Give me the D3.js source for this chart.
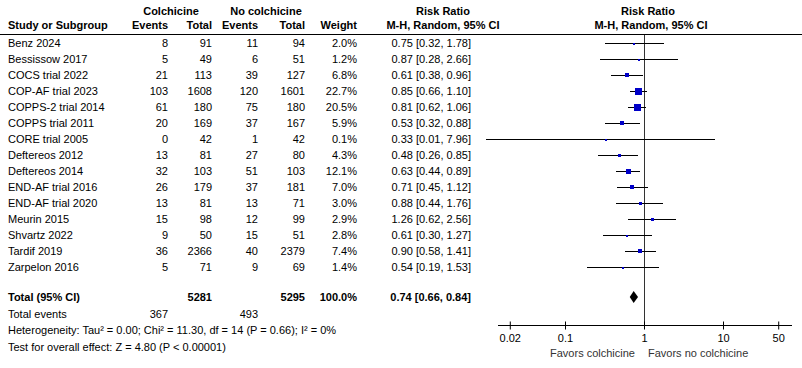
<!DOCTYPE html>
<html><head><meta charset="utf-8">
<script src="https://cdn.jsdelivr.net/npm/d3@7"></script>
<style>
html,body{margin:0;padding:0;background:#fff;}
svg{display:block;}
text{font-family:"Liberation Sans",Arial,sans-serif;font-size:11px;fill:#000;}
.b{font-weight:bold;}
</style></head>
<body><svg id="c" width="802" height="368"></svg>
<script>
const studies = ["Benz 2024","Bessissow 2017","COCS trial 2022","COP-AF trial 2023","COPPS-2 trial 2014","COPPS trial 2011","CORE trial 2005","Deftereos 2012","Deftereos 2014","END-AF trial 2016","END-AF trial 2020","Meurin 2015","Shvartz 2022","Tardif 2019","Zarpelon 2016"];
const colEvents = [8,5,21,103,61,20,0,13,32,26,13,15,9,36,5];
const colTotal = [91,49,113,1608,180,169,42,81,103,179,81,98,50,2366,71];
const noEvents = [11,6,39,120,75,37,1,27,51,37,13,12,15,40,9];
const noTotal = [94,51,127,1601,180,167,42,80,103,181,71,99,51,2379,69];
const weights = [2.0,1.2,6.8,22.7,20.5,5.9,0.1,4.3,12.1,7.0,3.0,2.9,2.8,7.4,1.4];
const rr = [0.75,0.87,0.61,0.85,0.81,0.53,0.33,0.48,0.63,0.71,0.88,1.26,0.61,0.90,0.54];
const lo = [0.32,0.28,0.38,0.66,0.62,0.32,0.01,0.26,0.44,0.45,0.44,0.62,0.30,0.58,0.19];
const hi = [1.78,2.66,0.96,1.10,1.06,0.88,7.96,0.85,0.89,1.12,1.76,2.56,1.27,1.41,1.53];
const total = {colTotal:5281, noTotal:5295, colEvents:367, noEvents:493, rr:0.74, lo:0.66, hi:0.84};
const tickValues = [0.02,0.1,1,10,50];
const tickLabels = ["0.02","0.1","1","10","50"];

const svg = d3.select("#c");
const x = d3.scaleLog().domain([0.01,100]).range([486,802]);
const rowY = d3.scaleLinear().domain([0,1]).range([43,59]);
const f2 = d3.format(".2f"), f1 = d3.format(".1f");

// headers
const hdr = (t,xx,y,anchor)=>svg.append("text").attr("class","b").attr("x",xx).attr("y",y).attr("text-anchor",anchor).text(t);
hdr("Colchicine",171,15,"middle");
hdr("No colchicine",266,15,"middle");
hdr("Risk Ratio",443,15,"middle");
hdr("Risk Ratio",648,15,"middle");
hdr("Study or Subgroup",8,29,"start");
hdr("Events",168,29,"end");
hdr("Total",212,29,"end");
hdr("Events",258,29,"end");
hdr("Total",305,29,"end");
hdr("Weight",357,29,"end");
hdr("M-H, Random, 95% CI",443,29,"middle");
hdr("M-H, Random, 95% CI",651,29,"middle");
svg.append("line").attr("x1",0).attr("x2",802).attr("y1",34.5).attr("y2",34.5).attr("stroke","#000");

// vertical line at 1
svg.append("line").attr("x1",Math.round(x(1))+0.5).attr("x2",Math.round(x(1))+0.5).attr("y1",35).attr("y2",325).attr("stroke","#333");

const cols = [
  {v:i=>colEvents[i], x:168},
  {v:i=>colTotal[i], x:212},
  {v:i=>noEvents[i], x:258},
  {v:i=>noTotal[i], x:305},
  {v:i=>f1(weights[i])+"%", x:357},
  {v:i=>`${f2(rr[i])} [${f2(lo[i])}, ${f2(hi[i])}]`, x:471}
];
studies.forEach((s,i)=>{
  const y = rowY(i);
  const g = svg.append("g");
  g.append("text").attr("x",8).attr("y",y+4).text(s);
  cols.forEach(c=>g.append("text").attr("x",c.x).attr("y",y+4).attr("text-anchor","end").text(c.v(i)));
  const yl = Math.round(y)+0.5;
  g.append("line").attr("x1",Math.round(x(lo[i]))).attr("x2",Math.round(x(hi[i]))).attr("y1",yl).attr("y2",yl).attr("stroke","#000").attr("shape-rendering","crispEdges");
  const side = Math.max(2, Math.round(7*Math.sqrt(weights[i]/22.7)));
  const h = side <= 2 ? 2 : side;
  const cx = Math.round(x(rr[i]));
  g.append("rect").attr("x",cx-Math.floor(side/2)).attr("y",Math.round(y)-Math.floor(h/2)+(side<=2?1:0)).attr("width",side).attr("height",h)
    .attr("fill","#0000c8").attr("shape-rendering","crispEdges");
});

// total row
const ty = 297;
svg.append("text").attr("class","b").attr("x",8).attr("y",ty+4).text("Total (95% CI)");
svg.append("text").attr("class","b").attr("x",212).attr("y",ty+4).attr("text-anchor","end").text(total.colTotal);
svg.append("text").attr("class","b").attr("x",305).attr("y",ty+4).attr("text-anchor","end").text(total.noTotal);
svg.append("text").attr("class","b").attr("x",357).attr("y",ty+4).attr("text-anchor","end").text("100.0%");
svg.append("text").attr("class","b").attr("x",471).attr("y",ty+4).attr("text-anchor","end").text(`${f2(total.rr)} [${f2(total.lo)}, ${f2(total.hi)}]`);
svg.append("path").attr("d",`M${x(total.lo)},${ty}L${x(total.rr)},${ty-6}L${x(total.hi)},${ty}L${x(total.rr)},${ty+6}Z`).attr("fill","#000");

svg.append("text").attr("x",8).attr("y",318).text("Total events");
svg.append("text").attr("x",168).attr("y",318).attr("text-anchor","end").text(total.colEvents);
svg.append("text").attr("x",258).attr("y",318).attr("text-anchor","end").text(total.noEvents);
svg.append("text").attr("x",8).attr("y",334).text("Heterogeneity: Tau\u00b2 = 0.00; Chi\u00b2 = 11.30, df = 14 (P = 0.66); I\u00b2 = 0%");
svg.append("text").attr("x",8).attr("y",351).text("Test for overall effect: Z = 4.80 (P < 0.00001)");

// axis
const ax = svg.append("g").attr("transform","translate(0,325.5)")
  .call(d3.axisBottom(x).tickValues(tickValues).tickFormat((d,i)=>tickLabels[i]).tickSizeOuter(0).tickSize(4).tickPadding(5));
ax.select(".domain").attr("d","M498,0H792").attr("stroke","#000");
ax.selectAll(".tick line").attr("y1",-4).attr("y2",4).attr("stroke","#000");
ax.selectAll(".tick text").attr("font-size",11).attr("font-family","'Liberation Sans',Arial,sans-serif").attr("fill","#000");
svg.append("text").attr("x",635).attr("y",357).attr("text-anchor","end").style("fill","#333").text("Favors colchicine");
svg.append("text").attr("x",648).attr("y",357).attr("text-anchor","start").style("fill","#333").text("Favors no colchicine");
</script></body></html>
